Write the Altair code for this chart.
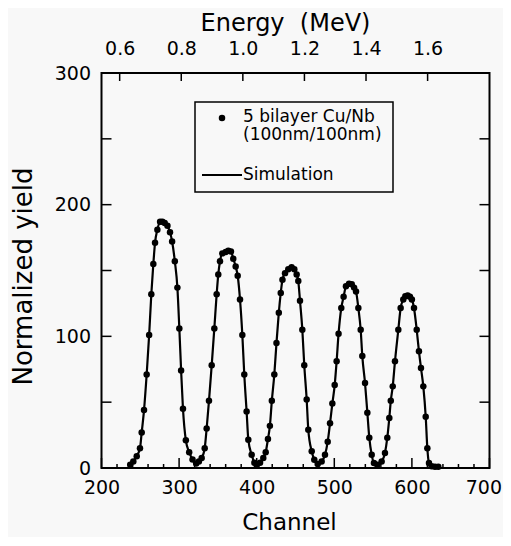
import altair as alt
import pandas as pd

# ---- data ----
channel = [237, 241, 245.4, 249.6, 251.8, 254.8, 258.2, 261.4, 264.2, 266.8,
           269, 272, 275.5, 278.5, 281.5, 285, 288.3, 291, 294.5, 297.8,
           300.3, 302.6, 305, 308.7, 313, 317.3, 322,
           325.5, 329.1, 333, 335.5, 338.5, 342, 345.4, 348.4, 350.5, 352.7,
           355.7, 360, 363.4, 366.8, 369.8, 372.9, 375.5, 378.5, 381.5, 384,
           387, 389.2, 393.5, 397, 400, 404.3, 408.5, 411.6, 414.5, 417,
           419.5, 422.7, 425.5, 428.5, 431, 433.2, 436.5, 440.7, 445, 448.5,
           451.5, 453.6, 455.8, 458.8, 461.3, 464.4, 466.5, 470.9, 474.2, 478.6,
           483.7, 488, 491.5, 494.5, 497.5, 500.5, 503, 505.5, 509, 512,
           515, 519, 522.5, 525.5, 528, 531, 534, 536.1, 539.6, 542.6,
           545.1, 548.2, 551.1, 555.4, 561, 565.3, 568.3, 570.9, 572.8, 575.3,
           578.2, 582.5, 585.5, 588.9, 591.5, 594.5, 597.5, 600, 602.7, 606.2,
           609.1, 611.7, 614.7, 617.8, 619.9, 622, 625.5, 629.8, 634]
yield_vals = [2.5, 5, 9, 15, 27, 44, 71, 101, 132, 155,
              171, 181, 187, 187, 186, 184, 179, 172, 157, 137,
              106, 74, 45, 21, 12, 6.5, 3.5,
              5, 7.6, 15, 30, 51, 78, 106, 132, 147, 157,
              163, 164, 165, 164.5, 159, 153, 146, 128, 101, 71,
              43, 21.5, 10, 4, 2, 4, 7.6, 12, 22, 32,
              51, 71, 95, 118, 133, 143, 148, 151, 152.5, 151,
              147, 142, 127, 105, 78, 52, 29, 12.7, 6.3, 3,
              5, 10, 20, 34, 49, 63, 81, 102, 121.5, 130,
              138, 140, 139.5, 137, 134, 121.5, 105, 85, 64.5, 42,
              23, 10, 3.8, 2.5, 5, 11.4, 23, 38, 51, 62,
              81, 105, 121.5, 128, 130.5, 131, 130, 128, 121.5, 105,
              88.6, 76, 62, 39, 15, 3.8, 1.3, 1, 1]

x_major = [200, 300, 400, 500, 600, 700]
x_minor = [220, 240, 260, 280, 320, 340, 360, 380, 420, 440, 460, 480,
           520, 540, 560, 580, 620, 640, 660, 680]
y_ticks = [0, 50, 100, 150, 200, 250, 300]
y_labels = [0, 100, 200, 300]
energy_ticks = [0.6, 0.8, 1.0, 1.2, 1.4, 1.6]
energy_domain = [0.541, 1.801]

legend_points = "5 bilayer Cu/Nb"
legend_points2 = "(100nm/100nm)"
legend_line = "Simulation"

W, H = 388, 395
FONT = "DejaVu Sans"

df = pd.DataFrame({"channel": channel, "yield": yield_vals})
xscale = alt.Scale(domain=[200, 700], nice=False, zero=False)
yscale = alt.Scale(domain=[0, 300], nice=False, zero=False)

x_axis = alt.Axis(orient="bottom", title="Channel", values=x_major, format="d",
                  tickSize=0, domain=False, grid=False, labelPadding=10,
                  titlePadding=14, titleX=187.5, labelFlush=False,
                  labelAlign={"condition": {"test": "datum.value == 700",
                                            "value": "right"},
                              "value": "center"},
                  labelOffset={"condition": {"test": "datum.value == 700",
                                             "value": 12},
                               "value": 0})
y_axis = alt.Axis(orient="left", title="Normalized yield", values=y_labels,
                  format="d", tickSize=0, domain=False, grid=False,
                  labelPadding=11, titlePadding=18, titleFontSize=26,
                  titleY=203)

line = alt.Chart(df).mark_line(color="black", strokeWidth=2.2,
                               interpolate="monotone").encode(
    x=alt.X("channel:Q", scale=xscale, axis=x_axis),
    y=alt.Y("yield:Q", scale=yscale, axis=y_axis),
)
points = alt.Chart(df).mark_point(filled=True, color="black", size=42,
                                  opacity=1).encode(
    x=alt.X("channel:Q", scale=xscale, axis=x_axis),
    y=alt.Y("yield:Q", scale=yscale, axis=y_axis),
)

tk = dict(color="black", strokeWidth=1.5)
bx_minor = alt.Chart(pd.DataFrame({"t": x_minor})).mark_rule(**tk).encode(
    x=alt.X("t:Q", scale=xscale, axis=x_axis), y=alt.value(H), y2=alt.value(H - 4))
bx_major = alt.Chart(pd.DataFrame({"t": x_major})).mark_rule(**tk).encode(
    x=alt.X("t:Q", scale=xscale, axis=x_axis), y=alt.value(H), y2=alt.value(H - 10))
yl = alt.Chart(pd.DataFrame({"t": y_ticks})).mark_rule(**tk).encode(
    y=alt.Y("t:Q", scale=yscale, axis=y_axis), x=alt.value(0), x2=alt.value(10))
yr = alt.Chart(pd.DataFrame({"t": y_ticks})).mark_rule(**tk).encode(
    y=alt.Y("t:Q", scale=yscale, axis=y_axis), x=alt.value(W), x2=alt.value(W - 10))

one = pd.DataFrame({"a": [0]})
box = alt.Chart(one).mark_rect(fill="#f8f8f8", stroke="black",
                               strokeWidth=1.5).encode(
    x=alt.value(93.5), x2=alt.value(291.5), y=alt.value(29), y2=alt.value(119))
lg_dot = alt.Chart(one).mark_point(filled=True, color="black", size=42,
                                   opacity=1).encode(
    x=alt.value(120.5), y=alt.value(45))
lg_line = alt.Chart(one).mark_rule(color="black", strokeWidth=2).encode(
    x=alt.value(100.5), x2=alt.value(140.5), y=alt.value(102))
txt = dict(font=FONT, fontSize=17, color="black", align="left", baseline="middle")
lg_t1 = alt.Chart(one).mark_text(**txt).encode(
    x=alt.value(141.5), y=alt.value(44), text=alt.value(legend_points))
lg_t2 = alt.Chart(one).mark_text(**txt).encode(
    x=alt.value(141.5), y=alt.value(62), text=alt.value(legend_points2))
lg_t3 = alt.Chart(one).mark_text(**txt).encode(
    x=alt.value(141.5), y=alt.value(102), text=alt.value(legend_line))

main = alt.layer(line, points, bx_minor, bx_major, yl, yr,
                 box, lg_dot, lg_line, lg_t1, lg_t2, lg_t3)

energy = alt.Chart(pd.DataFrame({"e": energy_ticks})).mark_rule(**tk).encode(
    x=alt.X("e:Q", scale=alt.Scale(domain=energy_domain, nice=False, zero=False),
            axis=alt.Axis(orient="top", title="Energy\u00a0 (MeV)",
                          values=energy_ticks, format=".1f", tickSize=0,
                          domain=False, grid=False, labelPadding=15,
                          titlePadding=4, titleX=183.5, titleFontSize=24)),
    y=alt.value(0), y2=alt.value(8),
)

chart = alt.layer(main, energy).resolve_scale(x="independent").properties(
    width=W, height=H, background="#f8f8f8",
    autosize=alt.AutoSizeParams(type="none"),
    padding={"left": 93.5, "top": 65, "right": 13, "bottom": 69},
).configure_view(stroke="black", strokeWidth=2).configure_axis(
    labelFont=FONT, titleFont=FONT, labelFontSize=19, titleFontSize=23,
    labelColor="black", titleColor="black", titleFontWeight="normal",
)

chart.save("out.html", embed_options={"renderer": "svg", "actions": False})
